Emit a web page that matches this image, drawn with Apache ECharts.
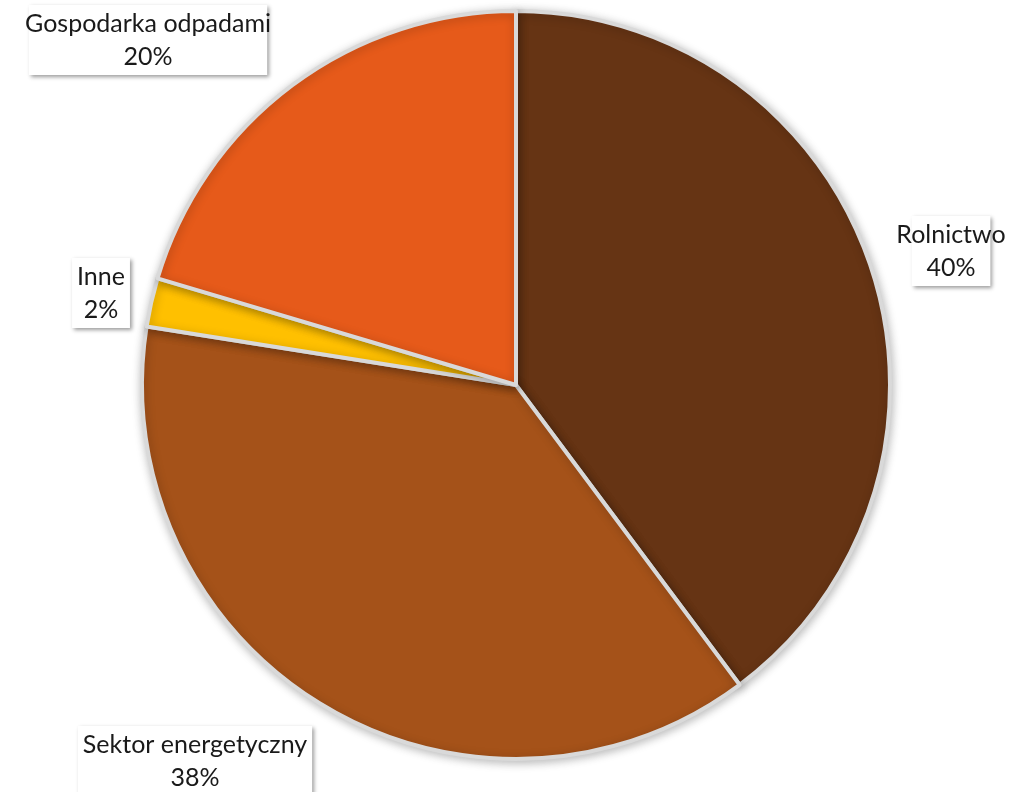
<!DOCTYPE html>
<html>
<head>
<meta charset="utf-8">
<script src="https://cdn.jsdelivr.net/npm/echarts@6/dist/echarts.min.js"></script>
<style>
html,body{margin:0;padding:0;background:#fff;}
#chart{width:1009px;height:792px;}
</style>
</head>
<body>
<div id="chart"></div>
<script>
const categories = ['Rolnictwo', 'Sektor energetyczny', 'Inne', 'Gospodarka odpadami'];
const values = [39.8, 37.7, 2.1, 20.4];
const colors = ['#663414', '#a55219', '#ffc000', '#e65a1a'];
// label anchor positions (layout only)
const labelPos = [[951, 251], [195, 761], [101, 293], [148, 40]];

const chart = echarts.init(document.getElementById('chart'), null, {renderer: 'canvas'});
chart.setOption({
  animation: false,
  backgroundColor: '#fff',
  series: [{
    type: 'pie',
    center: [516, 385],
    radius: 374,
    startAngle: 90,
    clockwise: true,
    data: categories.map((c, i) => ({name: c, value: values[i], itemStyle: {color: colors[i]}})),
    itemStyle: {
      borderColor: '#d9d9d9',
      borderWidth: 4,
      shadowBlur: 10,
      shadowColor: 'rgba(0,0,0,0.25)',
      shadowOffsetX: 1,
      shadowOffsetY: 2
    },
    label: {
      show: true,
      position: 'outside',
      formatter: p => p.name + '\n' + Math.round(p.percent) + '%',
      fontFamily: 'Lato',
      fontSize: 25,
      lineHeight: 33,
      color: '#1a1a1a',
      align: 'center',
      overflow: 'none',
      backgroundColor: '#fff',
      padding: [2, 5, 2, 5],
      shadowBlur: 4,
      shadowColor: 'rgba(0,0,0,0.4)',
      shadowOffsetX: 2,
      shadowOffsetY: 2
    },
    labelLine: {show: false},
    labelLayout: function (params) {
      const p = labelPos[params.dataIndex];
      return {x: p[0], y: p[1], align: 'center', verticalAlign: 'middle', hideOverlap: false};
    }
  }]
});
</script>
</body>
</html>
